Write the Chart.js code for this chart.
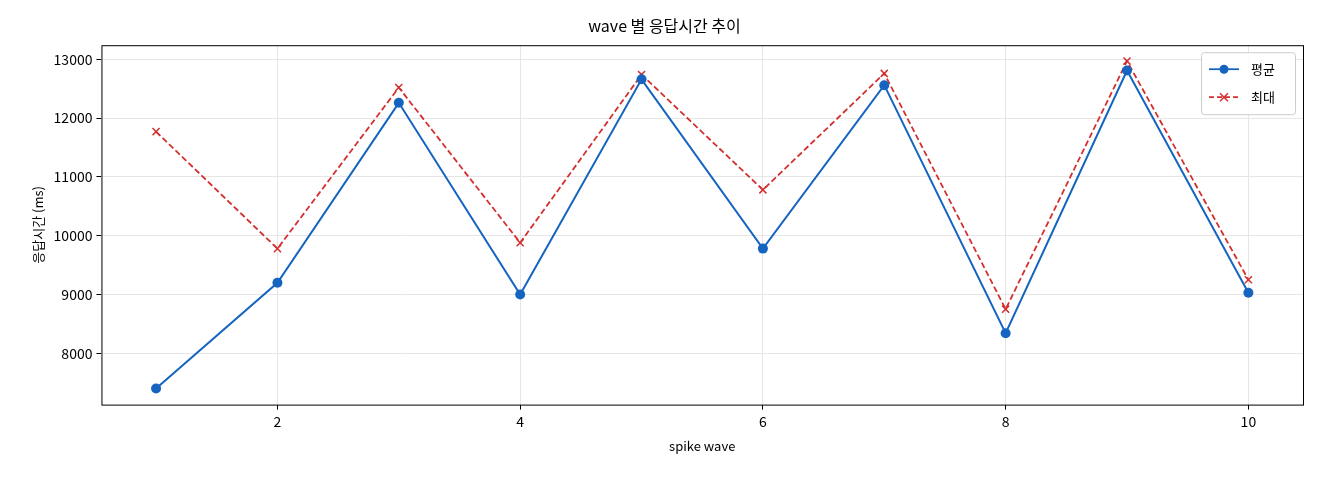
<!DOCTYPE html>
<html><head><meta charset="utf-8">
<script src="https://cdn.jsdelivr.net/npm/chart.js@4/dist/chart.umd.min.js"></script>
<style>html,body{margin:0;background:#fff}#wrap{width:1320px;height:480px}</style>
</head><body><div id="wrap"><canvas id="c"></canvas></div>
<script>
const waves = [1,2,3,4,5,6,7,8,9,10];
const avgMs = [7400,9200,12260,9000,12660,9780,12560,8340,12810,9030];
const maxMs = [11770,9780,12520,9880,12740,10780,12760,8750,12970,9250];
const xTicks = [2,4,6,8,10];
const yTicks = [8000,9000,10000,11000,12000,13000];
const FONT = "'Noto Sans CJK KR', 'DejaVu Sans', sans-serif";

// frame + legend box drawn on the plot area
const frame = {
  id: "frame",
  afterDraw(chart) {
    const {ctx, chartArea: a} = chart;
    ctx.save();
    ctx.strokeStyle = "#000"; ctx.lineWidth = 1;
    ctx.strokeRect(a.left+0.5, a.top+0.5, a.right-a.left, a.bottom-a.top);
    // legend
    const bx = a.right-102, by = a.top+7, bw = 94, bh = 62;
    ctx.fillStyle = "rgba(255,255,255,0.85)"; ctx.strokeStyle = "#ccc";
    ctx.beginPath(); ctx.roundRect(bx+0.5, by+0.5, bw, bh, 3); ctx.fill(); ctx.stroke();
    ctx.font = "13px " + FONT; ctx.textBaseline = "middle"; ctx.fillStyle = "#000";
    const rows = [["평균","#1565c0",[],"circle"],["최대","#d32f2f",[5,3],"x"]];
    rows.forEach((r,i) => {
      const y = by+17+i*28;
      ctx.strokeStyle = r[1]; ctx.lineWidth = 1.8; ctx.setLineDash(r[2]);
      ctx.beginPath(); ctx.moveTo(bx+8,y); ctx.lineTo(bx+38,y); ctx.stroke(); ctx.setLineDash([]);
      if (r[3]==="circle") { ctx.fillStyle=r[1]; ctx.beginPath(); ctx.arc(bx+23,y,4.5,0,7); ctx.fill(); }
      else { ctx.lineWidth=1.5; ctx.beginPath(); ctx.moveTo(bx+19,y-4); ctx.lineTo(bx+27,y+4); ctx.moveTo(bx+27,y-4); ctx.lineTo(bx+19,y+4); ctx.stroke(); }
      ctx.fillStyle = "#000"; ctx.fillText(r[0], bx+50, y);
    });
    ctx.restore();
  }
};

new Chart(document.getElementById("c"), {
  type: "line",
  data: {
    datasets: [
      { label:"평균", data: waves.map((w,i)=>({x:w,y:avgMs[i]})), borderColor:"#1565c0", backgroundColor:"#1565c0",
        borderWidth:2, pointRadius:5, pointStyle:"circle", pointBorderWidth:0, tension:0 },
      { label:"최대", data: waves.map((w,i)=>({x:w,y:maxMs[i]})), borderColor:"#d32f2f", backgroundColor:"#d32f2f",
        borderWidth:1.8, borderDash:[6,3], pointRadius:5, pointStyle:"crossRot", pointBorderWidth:1.5, tension:0 }
    ]
  },
  options: {
    responsive:true, maintainAspectRatio:false, animation:false,
    layout:{ padding:{ left:26, right:17, top:12, bottom:22 } },
    plugins: {
      legend:{ display:false },
      title:{ display:true, text:"wave 별 응답시간 추이", color:"#000", font:{ family:FONT, size:16, weight:"normal" }, padding:{ top:4, bottom:10 } },
      tooltip:{ enabled:false }
    },
    scales: {
      x: { type:"linear", min:0.55, max:10.45,
        afterBuildTicks: s => { s.ticks = xTicks.map(v=>({value:v})); },
        grid:{ color:"#e6e6e6", drawTicks:true, tickColor:"#000", tickLength:5 }, border:{ display:false },
        ticks:{ color:"#000", font:{ family:FONT, size:14 }, padding:4, callback: v => String(v) },
        title:{ display:true, text:"spike wave", color:"#000", font:{ family:FONT, size:13 } } },
      y: { min:7127, max:13240,
        afterBuildTicks: s => { s.ticks = yTicks.map(v=>({value:v})); },
        grid:{ color:"#e6e6e6", tickColor:"#000", tickLength:5 }, border:{ display:false },
        ticks:{ color:"#000", font:{ family:FONT, size:14 }, padding:4, callback: v => String(v) },
        title:{ display:true, text:"응답시간 (ms)", color:"#000", font:{ family:FONT, size:13 } } }
    }
  },
  plugins:[frame]
});
</script></body></html>
